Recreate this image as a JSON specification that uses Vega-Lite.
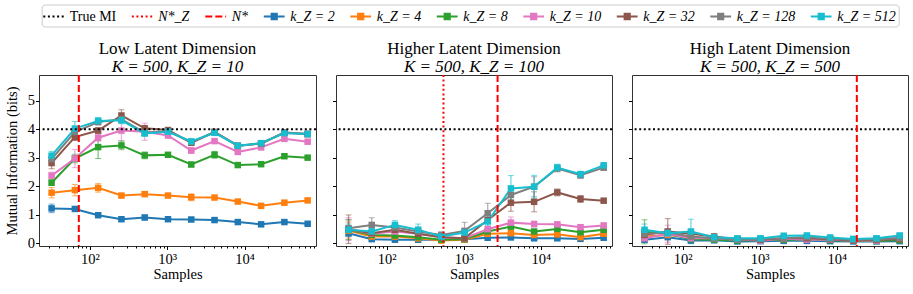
{
"$schema": "https://vega.github.io/schema/vega-lite/v6.json",
"padding": {"left": 3, "top": 4, "right": 4, "bottom": 4},
"background": "white",
"bounds": "flush",
"datasets": {
"d": [
{"p":1,"k":"k_Z = 2","s":32,"m":1.22,"e":0.15},{"p":1,"k":"k_Z = 2","s":64,"m":1.20,"e":0.07},{"p":1,"k":"k_Z = 2","s":128,"m":0.98,"e":0.07},{"p":1,"k":"k_Z = 2","s":256,"m":0.84,"e":0.06},{"p":1,"k":"k_Z = 2","s":512,"m":0.90,"e":0.08},{"p":1,"k":"k_Z = 2","s":1024,"m":0.84,"e":0.06},{"p":1,"k":"k_Z = 2","s":2048,"m":0.83,"e":0.06},{"p":1,"k":"k_Z = 2","s":4096,"m":0.81,"e":0.05},{"p":1,"k":"k_Z = 2","s":8192,"m":0.74,"e":0.06},{"p":1,"k":"k_Z = 2","s":16384,"m":0.66,"e":0.06},{"p":1,"k":"k_Z = 2","s":32768,"m":0.74,"e":0.05},{"p":1,"k":"k_Z = 2","s":65536,"m":0.68,"e":0.05},
{"p":1,"k":"k_Z = 4","s":32,"m":1.77,"e":0.18},{"p":1,"k":"k_Z = 4","s":64,"m":1.86,"e":0.2},{"p":1,"k":"k_Z = 4","s":128,"m":1.94,"e":0.15},{"p":1,"k":"k_Z = 4","s":256,"m":1.67,"e":0.07},{"p":1,"k":"k_Z = 4","s":512,"m":1.72,"e":0.08},{"p":1,"k":"k_Z = 4","s":1024,"m":1.67,"e":0.07},{"p":1,"k":"k_Z = 4","s":2048,"m":1.61,"e":0.12},{"p":1,"k":"k_Z = 4","s":4096,"m":1.60,"e":0.06},{"p":1,"k":"k_Z = 4","s":8192,"m":1.46,"e":0.07},{"p":1,"k":"k_Z = 4","s":16384,"m":1.31,"e":0.06},{"p":1,"k":"k_Z = 4","s":32768,"m":1.42,"e":0.08},{"p":1,"k":"k_Z = 4","s":65536,"m":1.50,"e":0.06},
{"p":1,"k":"k_Z = 8","s":32,"m":2.12,"e":0.1},{"p":1,"k":"k_Z = 8","s":64,"m":2.97,"e":0.15},{"p":1,"k":"k_Z = 8","s":128,"m":3.37,"e":0.4},{"p":1,"k":"k_Z = 8","s":256,"m":3.43,"e":0.15},{"p":1,"k":"k_Z = 8","s":512,"m":3.08,"e":0.12},{"p":1,"k":"k_Z = 8","s":1024,"m":3.10,"e":0.06},{"p":1,"k":"k_Z = 8","s":2048,"m":2.76,"e":0.08},{"p":1,"k":"k_Z = 8","s":4096,"m":3.10,"e":0.12},{"p":1,"k":"k_Z = 8","s":8192,"m":2.74,"e":0.06},{"p":1,"k":"k_Z = 8","s":16384,"m":2.77,"e":0.06},{"p":1,"k":"k_Z = 8","s":32768,"m":3.05,"e":0.07},{"p":1,"k":"k_Z = 8","s":65536,"m":3.00,"e":0.06},
{"p":1,"k":"k_Z = 10","s":32,"m":2.37,"e":0.12},{"p":1,"k":"k_Z = 10","s":64,"m":2.97,"e":0.32},{"p":1,"k":"k_Z = 10","s":128,"m":3.70,"e":0.12},{"p":1,"k":"k_Z = 10","s":256,"m":3.95,"e":0.35},{"p":1,"k":"k_Z = 10","s":512,"m":3.91,"e":0.3},{"p":1,"k":"k_Z = 10","s":1024,"m":3.78,"e":0.1},{"p":1,"k":"k_Z = 10","s":2048,"m":3.25,"e":0.1},{"p":1,"k":"k_Z = 10","s":4096,"m":3.58,"e":0.08},{"p":1,"k":"k_Z = 10","s":8192,"m":3.20,"e":0.08},{"p":1,"k":"k_Z = 10","s":16384,"m":3.36,"e":0.08},{"p":1,"k":"k_Z = 10","s":32768,"m":3.66,"e":0.07},{"p":1,"k":"k_Z = 10","s":65536,"m":3.56,"e":0.07},
{"p":1,"k":"k_Z = 32","s":32,"m":2.81,"e":0.2},{"p":1,"k":"k_Z = 32","s":64,"m":3.72,"e":0.12},{"p":1,"k":"k_Z = 32","s":128,"m":3.95,"e":0.1},{"p":1,"k":"k_Z = 32","s":256,"m":4.48,"e":0.2},{"p":1,"k":"k_Z = 32","s":512,"m":4.03,"e":0.1},{"p":1,"k":"k_Z = 32","s":1024,"m":3.97,"e":0.08},{"p":1,"k":"k_Z = 32","s":2048,"m":3.52,"e":0.08},{"p":1,"k":"k_Z = 32","s":4096,"m":3.90,"e":0.08},{"p":1,"k":"k_Z = 32","s":8192,"m":3.42,"e":0.07},{"p":1,"k":"k_Z = 32","s":16384,"m":3.50,"e":0.07},{"p":1,"k":"k_Z = 32","s":32768,"m":3.88,"e":0.07},{"p":1,"k":"k_Z = 32","s":65536,"m":3.82,"e":0.07},
{"p":1,"k":"k_Z = 128","s":32,"m":2.95,"e":0.15},{"p":1,"k":"k_Z = 128","s":64,"m":3.90,"e":0.15},{"p":1,"k":"k_Z = 128","s":128,"m":4.25,"e":0.1},{"p":1,"k":"k_Z = 128","s":256,"m":4.35,"e":0.12},{"p":1,"k":"k_Z = 128","s":512,"m":3.88,"e":0.1},{"p":1,"k":"k_Z = 128","s":1024,"m":3.93,"e":0.08},{"p":1,"k":"k_Z = 128","s":2048,"m":3.55,"e":0.08},{"p":1,"k":"k_Z = 128","s":4096,"m":3.90,"e":0.08},{"p":1,"k":"k_Z = 128","s":8192,"m":3.41,"e":0.07},{"p":1,"k":"k_Z = 128","s":16384,"m":3.50,"e":0.07},{"p":1,"k":"k_Z = 128","s":32768,"m":3.88,"e":0.07},{"p":1,"k":"k_Z = 128","s":65536,"m":3.84,"e":0.07},
{"p":1,"k":"k_Z = 512","s":32,"m":3.07,"e":0.15},{"p":1,"k":"k_Z = 512","s":64,"m":4.02,"e":0.25},{"p":1,"k":"k_Z = 512","s":128,"m":4.29,"e":0.12},{"p":1,"k":"k_Z = 512","s":256,"m":4.31,"e":0.12},{"p":1,"k":"k_Z = 512","s":512,"m":3.85,"e":0.1},{"p":1,"k":"k_Z = 512","s":1024,"m":3.91,"e":0.08},{"p":1,"k":"k_Z = 512","s":2048,"m":3.57,"e":0.08},{"p":1,"k":"k_Z = 512","s":4096,"m":3.87,"e":0.08},{"p":1,"k":"k_Z = 512","s":8192,"m":3.42,"e":0.07},{"p":1,"k":"k_Z = 512","s":16384,"m":3.51,"e":0.07},{"p":1,"k":"k_Z = 512","s":32768,"m":3.86,"e":0.07},{"p":1,"k":"k_Z = 512","s":65536,"m":3.83,"e":0.07},
{"p":2,"k":"k_Z = 2","s":32,"m":0.35,"e":0.1},{"p":2,"k":"k_Z = 2","s":64,"m":0.14,"e":0.06},{"p":2,"k":"k_Z = 2","s":128,"m":0.12,"e":0.05},{"p":2,"k":"k_Z = 2","s":256,"m":0.12,"e":0.05},{"p":2,"k":"k_Z = 2","s":512,"m":0.12,"e":0.05},{"p":2,"k":"k_Z = 2","s":1024,"m":0.14,"e":0.05},{"p":2,"k":"k_Z = 2","s":2048,"m":0.19,"e":0.05},{"p":2,"k":"k_Z = 2","s":4096,"m":0.20,"e":0.05},{"p":2,"k":"k_Z = 2","s":8192,"m":0.17,"e":0.05},{"p":2,"k":"k_Z = 2","s":16384,"m":0.17,"e":0.05},{"p":2,"k":"k_Z = 2","s":32768,"m":0.15,"e":0.05},{"p":2,"k":"k_Z = 2","s":65536,"m":0.19,"e":0.05},
{"p":2,"k":"k_Z = 4","s":32,"m":0.44,"e":0.3},{"p":2,"k":"k_Z = 4","s":64,"m":0.23,"e":0.06},{"p":2,"k":"k_Z = 4","s":128,"m":0.23,"e":0.06},{"p":2,"k":"k_Z = 4","s":256,"m":0.17,"e":0.05},{"p":2,"k":"k_Z = 4","s":512,"m":0.09,"e":0.05},{"p":2,"k":"k_Z = 4","s":1024,"m":0.12,"e":0.05},{"p":2,"k":"k_Z = 4","s":2048,"m":0.33,"e":0.06},{"p":2,"k":"k_Z = 4","s":4096,"m":0.35,"e":0.1},{"p":2,"k":"k_Z = 4","s":8192,"m":0.29,"e":0.06},{"p":2,"k":"k_Z = 4","s":16384,"m":0.31,"e":0.06},{"p":2,"k":"k_Z = 4","s":32768,"m":0.21,"e":0.06},{"p":2,"k":"k_Z = 4","s":65536,"m":0.33,"e":0.06},
{"p":2,"k":"k_Z = 8","s":32,"m":0.47,"e":0.35},{"p":2,"k":"k_Z = 8","s":64,"m":0.29,"e":0.06},{"p":2,"k":"k_Z = 8","s":128,"m":0.27,"e":0.06},{"p":2,"k":"k_Z = 8","s":256,"m":0.21,"e":0.05},{"p":2,"k":"k_Z = 8","s":512,"m":0.12,"e":0.05},{"p":2,"k":"k_Z = 8","s":1024,"m":0.14,"e":0.05},{"p":2,"k":"k_Z = 8","s":2048,"m":0.41,"e":0.08},{"p":2,"k":"k_Z = 8","s":4096,"m":0.58,"e":0.08},{"p":2,"k":"k_Z = 8","s":8192,"m":0.41,"e":0.06},{"p":2,"k":"k_Z = 8","s":16384,"m":0.50,"e":0.06},{"p":2,"k":"k_Z = 8","s":32768,"m":0.38,"e":0.06},{"p":2,"k":"k_Z = 8","s":65536,"m":0.47,"e":0.06},
{"p":2,"k":"k_Z = 10","s":32,"m":0.49,"e":0.4},{"p":2,"k":"k_Z = 10","s":64,"m":0.33,"e":0.1},{"p":2,"k":"k_Z = 10","s":128,"m":0.41,"e":0.1},{"p":2,"k":"k_Z = 10","s":256,"m":0.33,"e":0.08},{"p":2,"k":"k_Z = 10","s":512,"m":0.21,"e":0.08},{"p":2,"k":"k_Z = 10","s":1024,"m":0.17,"e":0.05},{"p":2,"k":"k_Z = 10","s":2048,"m":0.49,"e":0.1},{"p":2,"k":"k_Z = 10","s":4096,"m":0.72,"e":0.2},{"p":2,"k":"k_Z = 10","s":8192,"m":0.67,"e":0.1},{"p":2,"k":"k_Z = 10","s":16384,"m":0.66,"e":0.08},{"p":2,"k":"k_Z = 10","s":32768,"m":0.56,"e":0.08},{"p":2,"k":"k_Z = 10","s":65536,"m":0.62,"e":0.08},
{"p":2,"k":"k_Z = 32","s":32,"m":0.49,"e":0.5},{"p":2,"k":"k_Z = 32","s":64,"m":0.35,"e":0.1},{"p":2,"k":"k_Z = 32","s":128,"m":0.47,"e":0.1},{"p":2,"k":"k_Z = 32","s":256,"m":0.33,"e":0.08},{"p":2,"k":"k_Z = 32","s":512,"m":0.21,"e":0.08},{"p":2,"k":"k_Z = 32","s":1024,"m":0.17,"e":0.06},{"p":2,"k":"k_Z = 32","s":2048,"m":0.81,"e":0.1},{"p":2,"k":"k_Z = 32","s":4096,"m":1.42,"e":0.3},{"p":2,"k":"k_Z = 32","s":8192,"m":1.45,"e":0.35},{"p":2,"k":"k_Z = 32","s":16384,"m":1.78,"e":0.12},{"p":2,"k":"k_Z = 32","s":32768,"m":1.55,"e":0.12},{"p":2,"k":"k_Z = 32","s":65536,"m":1.49,"e":0.07},
{"p":2,"k":"k_Z = 128","s":32,"m":0.52,"e":0.3},{"p":2,"k":"k_Z = 128","s":64,"m":0.64,"e":0.25},{"p":2,"k":"k_Z = 128","s":128,"m":0.55,"e":0.15},{"p":2,"k":"k_Z = 128","s":256,"m":0.41,"e":0.15},{"p":2,"k":"k_Z = 128","s":512,"m":0.29,"e":0.1},{"p":2,"k":"k_Z = 128","s":1024,"m":0.43,"e":0.3},{"p":2,"k":"k_Z = 128","s":2048,"m":1.05,"e":0.35},{"p":2,"k":"k_Z = 128","s":4096,"m":1.69,"e":0.3},{"p":2,"k":"k_Z = 128","s":8192,"m":1.98,"e":0.35},{"p":2,"k":"k_Z = 128","s":16384,"m":2.62,"e":0.12},{"p":2,"k":"k_Z = 128","s":32768,"m":2.38,"e":0.1},{"p":2,"k":"k_Z = 128","s":65536,"m":2.65,"e":0.1},
{"p":2,"k":"k_Z = 512","s":32,"m":0.47,"e":0.2},{"p":2,"k":"k_Z = 512","s":64,"m":0.41,"e":0.12},{"p":2,"k":"k_Z = 512","s":128,"m":0.64,"e":0.15},{"p":2,"k":"k_Z = 512","s":256,"m":0.47,"e":0.2},{"p":2,"k":"k_Z = 512","s":512,"m":0.23,"e":0.1},{"p":2,"k":"k_Z = 512","s":1024,"m":0.37,"e":0.1},{"p":2,"k":"k_Z = 512","s":2048,"m":0.76,"e":0.15},{"p":2,"k":"k_Z = 512","s":4096,"m":1.92,"e":0.45},{"p":2,"k":"k_Z = 512","s":8192,"m":1.98,"e":0.4},{"p":2,"k":"k_Z = 512","s":16384,"m":2.65,"e":0.12},{"p":2,"k":"k_Z = 512","s":32768,"m":2.42,"e":0.1},{"p":2,"k":"k_Z = 512","s":65536,"m":2.73,"e":0.1},
{"p":3,"k":"k_Z = 2","s":32,"m":0.12,"e":0.08},{"p":3,"k":"k_Z = 2","s":64,"m":0.21,"e":0.05},{"p":3,"k":"k_Z = 2","s":128,"m":0.09,"e":0.05},{"p":3,"k":"k_Z = 2","s":256,"m":0.10,"e":0.04},{"p":3,"k":"k_Z = 2","s":512,"m":0.06,"e":0.04},{"p":3,"k":"k_Z = 2","s":1024,"m":0.07,"e":0.04},{"p":3,"k":"k_Z = 2","s":2048,"m":0.08,"e":0.04},{"p":3,"k":"k_Z = 2","s":4096,"m":0.08,"e":0.04},{"p":3,"k":"k_Z = 2","s":8192,"m":0.07,"e":0.04},{"p":3,"k":"k_Z = 2","s":16384,"m":0.06,"e":0.04},{"p":3,"k":"k_Z = 2","s":32768,"m":0.06,"e":0.04},{"p":3,"k":"k_Z = 2","s":65536,"m":0.07,"e":0.04},
{"p":3,"k":"k_Z = 4","s":32,"m":0.23,"e":0.1},{"p":3,"k":"k_Z = 4","s":64,"m":0.29,"e":0.06},{"p":3,"k":"k_Z = 4","s":128,"m":0.21,"e":0.05},{"p":3,"k":"k_Z = 4","s":256,"m":0.14,"e":0.05},{"p":3,"k":"k_Z = 4","s":512,"m":0.12,"e":0.04},{"p":3,"k":"k_Z = 4","s":1024,"m":0.12,"e":0.04},{"p":3,"k":"k_Z = 4","s":2048,"m":0.15,"e":0.04},{"p":3,"k":"k_Z = 4","s":4096,"m":0.17,"e":0.04},{"p":3,"k":"k_Z = 4","s":8192,"m":0.12,"e":0.04},{"p":3,"k":"k_Z = 4","s":16384,"m":0.09,"e":0.04},{"p":3,"k":"k_Z = 4","s":32768,"m":0.09,"e":0.04},{"p":3,"k":"k_Z = 4","s":65536,"m":0.12,"e":0.04},
{"p":3,"k":"k_Z = 8","s":32,"m":0.40,"e":0.42},{"p":3,"k":"k_Z = 8","s":64,"m":0.33,"e":0.1},{"p":3,"k":"k_Z = 8","s":128,"m":0.14,"e":0.06},{"p":3,"k":"k_Z = 8","s":256,"m":0.12,"e":0.05},{"p":3,"k":"k_Z = 8","s":512,"m":0.09,"e":0.04},{"p":3,"k":"k_Z = 8","s":1024,"m":0.10,"e":0.04},{"p":3,"k":"k_Z = 8","s":2048,"m":0.12,"e":0.04},{"p":3,"k":"k_Z = 8","s":4096,"m":0.12,"e":0.04},{"p":3,"k":"k_Z = 8","s":8192,"m":0.10,"e":0.04},{"p":3,"k":"k_Z = 8","s":16384,"m":0.09,"e":0.04},{"p":3,"k":"k_Z = 8","s":32768,"m":0.08,"e":0.04},{"p":3,"k":"k_Z = 8","s":65536,"m":0.10,"e":0.04},
{"p":3,"k":"k_Z = 10","s":32,"m":0.17,"e":0.1},{"p":3,"k":"k_Z = 10","s":64,"m":0.33,"e":0.3},{"p":3,"k":"k_Z = 10","s":128,"m":0.17,"e":0.06},{"p":3,"k":"k_Z = 10","s":256,"m":0.17,"e":0.05},{"p":3,"k":"k_Z = 10","s":512,"m":0.12,"e":0.04},{"p":3,"k":"k_Z = 10","s":1024,"m":0.09,"e":0.04},{"p":3,"k":"k_Z = 10","s":2048,"m":0.15,"e":0.04},{"p":3,"k":"k_Z = 10","s":4096,"m":0.12,"e":0.04},{"p":3,"k":"k_Z = 10","s":8192,"m":0.12,"e":0.04},{"p":3,"k":"k_Z = 10","s":16384,"m":0.09,"e":0.04},{"p":3,"k":"k_Z = 10","s":32768,"m":0.09,"e":0.04},{"p":3,"k":"k_Z = 10","s":65536,"m":0.23,"e":0.05},
{"p":3,"k":"k_Z = 32","s":32,"m":0.29,"e":0.15},{"p":3,"k":"k_Z = 32","s":64,"m":0.41,"e":0.45},{"p":3,"k":"k_Z = 32","s":128,"m":0.33,"e":0.12},{"p":3,"k":"k_Z = 32","s":256,"m":0.23,"e":0.1},{"p":3,"k":"k_Z = 32","s":512,"m":0.14,"e":0.05},{"p":3,"k":"k_Z = 32","s":1024,"m":0.12,"e":0.05},{"p":3,"k":"k_Z = 32","s":2048,"m":0.17,"e":0.05},{"p":3,"k":"k_Z = 32","s":4096,"m":0.17,"e":0.05},{"p":3,"k":"k_Z = 32","s":8192,"m":0.14,"e":0.05},{"p":3,"k":"k_Z = 32","s":16384,"m":0.09,"e":0.05},{"p":3,"k":"k_Z = 32","s":32768,"m":0.12,"e":0.05},{"p":3,"k":"k_Z = 32","s":65536,"m":0.14,"e":0.05},
{"p":3,"k":"k_Z = 128","s":32,"m":0.33,"e":0.15},{"p":3,"k":"k_Z = 128","s":64,"m":0.37,"e":0.12},{"p":3,"k":"k_Z = 128","s":128,"m":0.23,"e":0.15},{"p":3,"k":"k_Z = 128","s":256,"m":0.17,"e":0.08},{"p":3,"k":"k_Z = 128","s":512,"m":0.12,"e":0.05},{"p":3,"k":"k_Z = 128","s":1024,"m":0.14,"e":0.05},{"p":3,"k":"k_Z = 128","s":2048,"m":0.17,"e":0.05},{"p":3,"k":"k_Z = 128","s":4096,"m":0.21,"e":0.05},{"p":3,"k":"k_Z = 128","s":8192,"m":0.15,"e":0.05},{"p":3,"k":"k_Z = 128","s":16384,"m":0.12,"e":0.05},{"p":3,"k":"k_Z = 128","s":32768,"m":0.14,"e":0.05},{"p":3,"k":"k_Z = 128","s":65536,"m":0.17,"e":0.05},
{"p":3,"k":"k_Z = 512","s":32,"m":0.47,"e":0.2},{"p":3,"k":"k_Z = 512","s":64,"m":0.35,"e":0.1},{"p":3,"k":"k_Z = 512","s":128,"m":0.41,"e":0.43},{"p":3,"k":"k_Z = 512","s":256,"m":0.21,"e":0.08},{"p":3,"k":"k_Z = 512","s":512,"m":0.17,"e":0.06},{"p":3,"k":"k_Z = 512","s":1024,"m":0.17,"e":0.06},{"p":3,"k":"k_Z = 512","s":2048,"m":0.26,"e":0.06},{"p":3,"k":"k_Z = 512","s":4096,"m":0.27,"e":0.06},{"p":3,"k":"k_Z = 512","s":8192,"m":0.20,"e":0.06},{"p":3,"k":"k_Z = 512","s":16384,"m":0.15,"e":0.06},{"p":3,"k":"k_Z = 512","s":32768,"m":0.17,"e":0.06},{"p":3,"k":"k_Z = 512","s":65536,"m":0.27,"e":0.06}
],
"leg": [{"k":"True MI"},{"k":"N*_Z"},{"k":"N*"},{"k":"k_Z = 2"},{"k":"k_Z = 4"},{"k":"k_Z = 8"},{"k":"k_Z = 10"},{"k":"k_Z = 32"},{"k":"k_Z = 128"},{"k":"k_Z = 512"}]
},
"hconcat": [
{
"width": 277, "height": 171,
"title": {"text": "Low Latent Dimension", "subtitle": "K = 500, K_Z = 10"},
"resolve": {"axis": {"x": "independent"}},
"layer": [
{
"layer": [
{"data": {"name": "leg"},
 "mark": {"type": "point", "filled": false, "opacity": 1, "strokeWidth": 2},
 "encoding": {
  "x": {"field": "s", "type": "quantitative", "axis": {"orient": "bottom", "values": [100, 1000, 10000], "labelExpr": "datum.value == 100 ? '10²' : datum.value == 1000 ? '10³' : '10⁴'", "title": "Samples"}},
  "y": {"field": "m", "type": "quantitative", "axis": {"values": [0, 1, 2, 3, 4, 5], "tickCount": 6, "labelOverlap": false, "title": "Mutual Information (bits)"}},
  "color": {"field": "k", "type": "nominal", "scale": {"domain": ["True MI","N*_Z","N*","k_Z = 2","k_Z = 4","k_Z = 8","k_Z = 10","k_Z = 32","k_Z = 128","k_Z = 512"], "range": ["black","red","red","#1f77b4","#ff7f0e","#2ca02c","#e377c2","#8c564b","#7f7f7f","#17becf"]},
    "legend": {"orient": "none", "legendX": 2.7, "legendY": -70.5, "direction": "horizontal", "columns": 10, "title": null, "symbolSize": 256, "symbolStrokeWidth": 2, "symbolOpacity": 1, "labelFont": "Liberation Serif", "labelFontSize": 14, "labelColor": "black", "labelOffset": 7, "columnPadding": 10.5, "padding": 3, "strokeColor": "#cccccc", "fillColor": "white", "cornerRadius": 3,
      "encoding": {"labels": {"fontStyle": {"condition": {"test": "datum.value === 'True MI'", "value": "normal"}, "value": "italic"}}}}},
  "shape": {"field": "k", "type": "nominal", "scale": {"domain": ["True MI","N*_Z","N*","k_Z = 2","k_Z = 4","k_Z = 8","k_Z = 10","k_Z = 32","k_Z = 128","k_Z = 512"], "range": ["M-1.3,0H1.3","M-1.3,0H1.3","M-1.3,0H1.3","M-1.3,0H1.3M-0.45,-0.33H0.45M-0.45,-0.11H0.45M-0.45,0.11H0.45M-0.45,0.33H0.45","M-1.3,0H1.3M-0.45,-0.33H0.45M-0.45,-0.11H0.45M-0.45,0.11H0.45M-0.45,0.33H0.45","M-1.3,0H1.3M-0.45,-0.33H0.45M-0.45,-0.11H0.45M-0.45,0.11H0.45M-0.45,0.33H0.45","M-1.3,0H1.3M-0.45,-0.33H0.45M-0.45,-0.11H0.45M-0.45,0.11H0.45M-0.45,0.33H0.45","M-1.3,0H1.3M-0.45,-0.33H0.45M-0.45,-0.11H0.45M-0.45,0.11H0.45M-0.45,0.33H0.45","M-1.3,0H1.3M-0.45,-0.33H0.45M-0.45,-0.11H0.45M-0.45,0.11H0.45M-0.45,0.33H0.45","M-1.3,0H1.3M-0.45,-0.33H0.45M-0.45,-0.11H0.45M-0.45,0.11H0.45M-0.45,0.33H0.45"]},
    "legend": {"orient": "none", "legendX": 2.7, "legendY": -70.5, "direction": "horizontal", "columns": 10, "title": null}},
  "strokeDash": {"field": "k", "type": "nominal", "scale": {"domain": ["True MI","N*_Z","N*","k_Z = 2","k_Z = 4","k_Z = 8","k_Z = 10","k_Z = 32","k_Z = 128","k_Z = 512"], "range": [[2,2.6],[2,2.6],[7,3],[1,0],[1,0],[1,0],[1,0],[1,0],[1,0],[1,0]]},
    "legend": {"orient": "none", "legendX": 2.7, "legendY": -70.5, "direction": "horizontal", "columns": 10, "title": null}}
 }},
{"data": {"name": "d"}, "transform": [{"filter": "datum.p == 1"}],
 "mark": {"type": "errorbar", "ticks": {"size": 6, "opacity": 0.6}, "rule": {"opacity": 0.6, "strokeWidth": 1.3}},
 "encoding": {
  "x": {"field": "s", "type": "quantitative", "scale": {"type": "log", "domain": [22, 84000], "nice": false}, "axis": {"orient": "bottom", "values": [100, 1000, 10000], "labelExpr": "datum.value == 100 ? '10²' : datum.value == 1000 ? '10³' : '10⁴'", "title": "Samples"}},
  "y": {"field": "m", "type": "quantitative", "scale": {"domain": [-0.1, 5.9], "nice": false, "zero": false}, "axis": {"values": [0, 1, 2, 3, 4, 5], "tickCount": 6, "labelOverlap": false, "title": "Mutual Information (bits)"}},
  "yError": {"field": "e"},
  "color": {"field": "k", "type": "nominal"}
 }},
{"data": {"name": "d"}, "transform": [{"filter": "datum.p == 1"}],
 "mark": {"type": "line", "strokeWidth": 2},
 "encoding": {
  "x": {"field": "s", "type": "quantitative", "axis": {"orient": "bottom", "values": [100, 1000, 10000], "labelExpr": "datum.value == 100 ? '10²' : datum.value == 1000 ? '10³' : '10⁴'", "title": "Samples"}},
  "y": {"field": "m", "type": "quantitative", "axis": {"values": [0, 1, 2, 3, 4, 5], "tickCount": 6, "labelOverlap": false, "title": "Mutual Information (bits)"}},
  "color": {"field": "k", "type": "nominal"}
 }},
{"data": {"name": "d"}, "transform": [{"filter": "datum.p == 1"}],
 "mark": {"type": "point", "shape": "square", "filled": true, "size": 42, "opacity": 1},
 "encoding": {
  "x": {"field": "s", "type": "quantitative"},
  "y": {"field": "m", "type": "quantitative"},
  "color": {"field": "k", "type": "nominal"}
 }},
{"data": {"values": [{}]},
 "mark": {"type": "rule", "color": "black", "strokeDash": [2, 2.6], "strokeWidth": 2},
 "encoding": {"y": {"datum": 4}}}
]
},
{"data": {"values": [{}]},
 "mark": {"type": "rule", "color": "red", "strokeDash": [7, 3], "strokeWidth": 2},
 "encoding": {"x": {"datum": 72, "type": "quantitative", "axis": {"orient": "bottom", "values": [30,40,50,60,70,80,90,200,300,400,500,600,700,800,900,2000,3000,4000,5000,6000,7000,8000,9000,20000,30000,40000,50000,60000,70000,80000], "labels": false, "tickSize": 2, "domain": false, "grid": false, "title": null}}}}
]
},
{
"width": 276, "height": 171,
"title": {"text": "Higher Latent Dimension", "subtitle": "K = 500, K_Z = 100"},
"resolve": {"axis": {"x": "independent"}},
"layer": [
{
"layer": [
{"data": {"name": "d"}, "transform": [{"filter": "datum.p == 2"}],
 "mark": {"type": "errorbar", "ticks": {"size": 6, "opacity": 0.6}, "rule": {"opacity": 0.6, "strokeWidth": 1.3}},
 "encoding": {
  "x": {"field": "s", "type": "quantitative", "scale": {"type": "log", "domain": [22, 84000], "nice": false}, "axis": {"orient": "bottom", "values": [100, 1000, 10000], "labelExpr": "datum.value == 100 ? '10²' : datum.value == 1000 ? '10³' : '10⁴'", "title": "Samples"}},
  "y": {"field": "m", "type": "quantitative", "scale": {"domain": [-0.1, 5.9], "nice": false, "zero": false}, "axis": {"values": [0, 1, 2, 3, 4, 5], "tickCount": 6, "labels": false, "title": null}},
  "yError": {"field": "e"},
  "color": {"field": "k", "type": "nominal"}
 }},
{"data": {"name": "d"}, "transform": [{"filter": "datum.p == 2"}],
 "mark": {"type": "line", "strokeWidth": 2},
 "encoding": {
  "x": {"field": "s", "type": "quantitative", "axis": {"orient": "bottom", "values": [100, 1000, 10000], "labelExpr": "datum.value == 100 ? '10²' : datum.value == 1000 ? '10³' : '10⁴'", "title": "Samples"}},
  "y": {"field": "m", "type": "quantitative", "axis": {"values": [0, 1, 2, 3, 4, 5], "tickCount": 6, "labels": false, "title": null}},
  "color": {"field": "k", "type": "nominal"}
 }},
{"data": {"name": "d"}, "transform": [{"filter": "datum.p == 2"}],
 "mark": {"type": "point", "shape": "square", "filled": true, "size": 42, "opacity": 1},
 "encoding": {
  "x": {"field": "s", "type": "quantitative"},
  "y": {"field": "m", "type": "quantitative"},
  "color": {"field": "k", "type": "nominal"}
 }},
{"data": {"values": [{}]},
 "mark": {"type": "rule", "color": "black", "strokeDash": [2, 2.6], "strokeWidth": 2},
 "encoding": {"y": {"datum": 4}}},
{"data": {"values": [{}]},
 "mark": {"type": "rule", "color": "red", "strokeDash": [2, 2.6], "strokeWidth": 2},
 "encoding": {"x": {"datum": 546, "type": "quantitative"}}}
]
},
{"data": {"values": [{}]},
 "mark": {"type": "rule", "color": "red", "strokeDash": [7, 3], "strokeWidth": 2},
 "encoding": {"x": {"datum": 2750, "type": "quantitative", "axis": {"orient": "bottom", "values": [30,40,50,60,70,80,90,200,300,400,500,600,700,800,900,2000,3000,4000,5000,6000,7000,8000,9000,20000,30000,40000,50000,60000,70000,80000], "labels": false, "tickSize": 2, "domain": false, "grid": false, "title": null}}}}
]
},
{
"width": 276, "height": 171,
"title": {"text": "High Latent Dimension", "subtitle": "K = 500, K_Z = 500"},
"resolve": {"axis": {"x": "independent"}},
"layer": [
{
"layer": [
{"data": {"name": "d"}, "transform": [{"filter": "datum.p == 3"}],
 "mark": {"type": "errorbar", "ticks": {"size": 6, "opacity": 0.6}, "rule": {"opacity": 0.6, "strokeWidth": 1.3}},
 "encoding": {
  "x": {"field": "s", "type": "quantitative", "scale": {"type": "log", "domain": [22, 84000], "nice": false}, "axis": {"orient": "bottom", "values": [100, 1000, 10000], "labelExpr": "datum.value == 100 ? '10²' : datum.value == 1000 ? '10³' : '10⁴'", "title": "Samples"}},
  "y": {"field": "m", "type": "quantitative", "scale": {"domain": [-0.1, 5.9], "nice": false, "zero": false}, "axis": {"values": [0, 1, 2, 3, 4, 5], "tickCount": 6, "labels": false, "title": null}},
  "yError": {"field": "e"},
  "color": {"field": "k", "type": "nominal"}
 }},
{"data": {"name": "d"}, "transform": [{"filter": "datum.p == 3"}],
 "mark": {"type": "line", "strokeWidth": 2},
 "encoding": {
  "x": {"field": "s", "type": "quantitative", "axis": {"orient": "bottom", "values": [100, 1000, 10000], "labelExpr": "datum.value == 100 ? '10²' : datum.value == 1000 ? '10³' : '10⁴'", "title": "Samples"}},
  "y": {"field": "m", "type": "quantitative", "axis": {"values": [0, 1, 2, 3, 4, 5], "tickCount": 6, "labels": false, "title": null}},
  "color": {"field": "k", "type": "nominal"}
 }},
{"data": {"name": "d"}, "transform": [{"filter": "datum.p == 3"}],
 "mark": {"type": "point", "shape": "square", "filled": true, "size": 42, "opacity": 1},
 "encoding": {
  "x": {"field": "s", "type": "quantitative"},
  "y": {"field": "m", "type": "quantitative"},
  "color": {"field": "k", "type": "nominal"}
 }},
{"data": {"values": [{}]},
 "mark": {"type": "rule", "color": "black", "strokeDash": [2, 2.6], "strokeWidth": 2},
 "encoding": {"y": {"datum": 4}}}
]
},
{"data": {"values": [{}]},
 "mark": {"type": "rule", "color": "red", "strokeDash": [7, 3], "strokeWidth": 2},
 "encoding": {"x": {"datum": 18200, "type": "quantitative", "axis": {"orient": "bottom", "values": [30,40,50,60,70,80,90,200,300,400,500,600,700,800,900,2000,3000,4000,5000,6000,7000,8000,9000,20000,30000,40000,50000,60000,70000,80000], "labels": false, "tickSize": 2, "domain": false, "grid": false, "title": null}}}}
]
}
],
"spacing": 20,
"config": {
 "font": "Liberation Serif",
 "view": {"stroke": "#333333", "strokeWidth": 1},
 "title": {"font": "Liberation Serif", "fontSize": 17, "fontWeight": "normal", "color": "black", "subtitleFont": "Liberation Serif", "subtitleFontSize": 17, "subtitleFontStyle": "italic", "subtitleColor": "black", "subtitlePadding": 1, "offset": -2, "anchor": "middle"},
 "axis": {"grid": false, "domain": false, "labelOverlap": false, "labelFont": "Liberation Serif", "labelFontSize": 14.5, "labelColor": "black", "titleFont": "Liberation Serif", "titleFontSize": 14.5, "titleFontWeight": "normal", "titleColor": "black", "tickColor": "black", "tickSize": 3.5},
 "axisX": {"labelPadding": 3, "titlePadding": 1},
 "axisY": {"labelPadding": 1, "titlePadding": 8},
 "legend": {"labelFont": "Liberation Serif", "labelFontSize": 14}
}
}
